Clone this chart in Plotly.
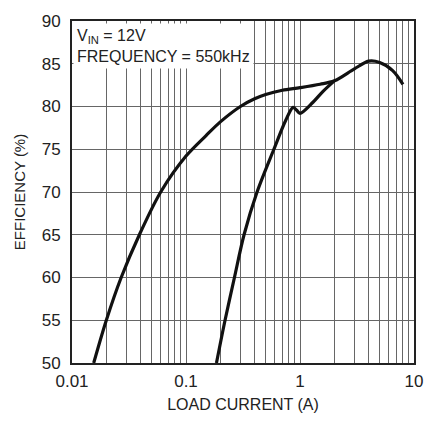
import plotly.graph_objects as go

# Upper curve
x1 = [0.0155, 0.02, 0.027, 0.039, 0.06, 0.1, 0.15, 0.2, 0.3, 0.4, 0.5, 0.7, 1.0, 1.5, 2.0, 3.0, 4.0, 5.0, 6.5, 8.0]
y1 = [50, 55, 60, 65, 70, 74.2, 76.6, 78.2, 80.0, 80.9, 81.4, 81.9, 82.2, 82.6, 83.0, 84.4, 85.3, 85.15, 84.2, 82.6]
# Lower curve (joins upper at ~2A)
x2 = [0.185, 0.22, 0.266, 0.323, 0.42, 0.59, 0.75, 0.87, 0.93, 1.0, 1.3, 1.6, 2.0]
y2 = [50, 55, 60, 65, 70, 75, 78.4, 79.9, 79.6, 79.2, 80.5, 81.8, 83.0]

x_ticks = [0.01, 0.1, 1, 10]
x_tick_labels = ["0.01", "0.1", "1", "10"]
y_ticks = [50, 55, 60, 65, 70, 75, 80, 85, 90]

FONT = "Liberation Sans, Arial, sans-serif"
GRID = "#666666"

fig = go.Figure()
for xs, ys in [(x1, y1), (x2, y2)]:
    fig.add_trace(go.Scatter(x=xs, y=ys, mode="lines",
                             line=dict(color="#111111", width=3.2, shape="spline", smoothing=0.9),
                             showlegend=False, hoverinfo="skip"))

fig.update_layout(
    width=435, height=423,
    margin=dict(l=72, r=12, t=14, b=57),
    paper_bgcolor="white", plot_bgcolor="white",
    font=dict(family=FONT, size=16, color="#222222"),
)
fig.update_xaxes(
    type="log", range=[-2, 1],
    tickvals=x_ticks, ticktext=x_tick_labels,
    showgrid=True, gridcolor=GRID, gridwidth=1.2,
    minor=dict(dtick="D1", showgrid=True, gridcolor=GRID, gridwidth=1.2, ticks=""),
    showline=True, linecolor="#222222", linewidth=2, mirror=True,
    ticks="", tickfont=dict(size=17), ticklabelstandoff=2,
    title=dict(text="LOAD CURRENT (A)", font=dict(size=16), standoff=8),
    zeroline=False,
)
fig.update_yaxes(
    range=[50, 90], tickvals=y_ticks,
    showgrid=True, gridcolor=GRID, gridwidth=1.2,
    showline=True, linecolor="#222222", linewidth=2, mirror=True,
    ticks="", tickfont=dict(size=17), ticklabelstandoff=6,
    title=dict(text="EFFICIENCY (%)", font=dict(size=15), standoff=12),
    zeroline=False,
)
fig.add_annotation(
    xref="paper", yref="paper", x=0.004, y=0.995, xanchor="left", yanchor="top",
    text="V<sub>IN</sub> = 12V<br>FREQUENCY = 550kHz",
    showarrow=False, align="left", bgcolor="white", borderpad=3,
    font=dict(size=16, color="#222222", family=FONT),
)

fig.write_html(
    "out.html",
    config={"displayModeBar": False},
    post_script="document.body.style.margin='0';document.body.style.overflow='hidden';",
)
